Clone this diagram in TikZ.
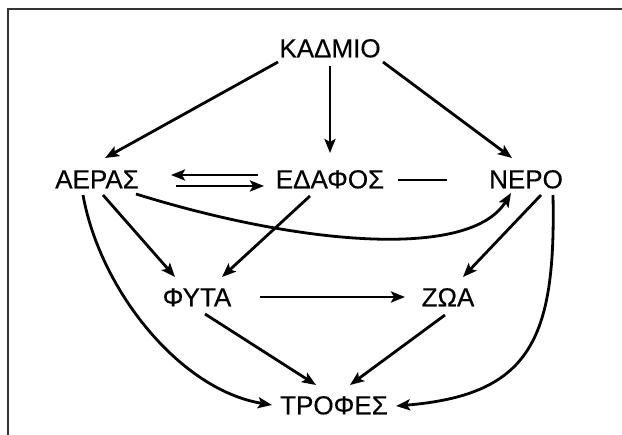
\documentclass[tikz,border=0pt]{standalone}
\usepackage{fontspec}
\setmainfont{Liberation Sans}
\newfontfamily\termfont[FakeBold=0.4]{Liberation Sans}
\usetikzlibrary{arrows.meta}
\begin{document}
\begin{tikzpicture}[x=1pt,y=-1pt,
  term/.style={inner sep=0pt,font=\termfont\fontsize{26}{30}\selectfont,text height=18.6pt,text depth=0pt},
  link/.style={line width=2.8pt,-{Stealth[length=14pt,width=11pt,inset=3pt]}},
  plain/.style={line width=2.8pt}]
\useasboundingbox (0,0) rectangle (622,435);
% frame along the top and left edges
\draw[line width=2pt,black!80] (622,9.5) -- (7.5,9.5) -- (7.5,435);

\node[term] (k) at (330,48) {ΚΑΔΜΙΟ};
\node[term] (a) at (97,179) {ΑΕΡΑΣ};
\node[term] (e) at (330,179) {ΕΔΑΦΟΣ};
\node[term] (n) at (526,179) {ΝΕΡΟ};
\node[term] (f) at (197,297) {ΦΥΤΑ};
\node[term] (z) at (448,297) {ΖΩΑ};
\node[term] (t) at (334,405) {ΤΡΟΦΕΣ};

% from cadmium
\draw[link] ([shift={(-52,14)}]k.center) -- ([shift={(8,-21)}]a.center);
\draw[link] ([shift={(0,18)}]k.center) -- ([shift={(0,-26)}]e.center);
\draw[link] ([shift={(53,14)}]k.center) -- ([shift={(-14,-21)}]n.center);

% air <-> soil
\draw[link] ([shift={(-72,-4)}]e.center) -- ([shift={(74,-4)}]a.center);
\draw[link] ([shift={(79,7)}]a.center) -- ([shift={(-66,7)}]e.center);
% soil -- water
\draw[plain] ([shift={(68,1)}]e.center) -- ([shift={(-79,1)}]n.center);

% to plants
\draw[link] ([shift={(6,16)}]a.center) -- ([shift={(-22,-20)}]f.center);
\draw[link] ([shift={(-20,17)}]e.center) -- ([shift={(25,-20)}]f.center);
% air to water
\draw[link] ([shift={(39,15)}]a.center) .. controls (300,245) and (470,260) .. ([shift={(-15,14)}]n.center);
% water to animals
\draw[link] ([shift={(15,16)}]n.center) -- ([shift={(15,-20)}]z.center);
% long curves to food
\draw[link] ([shift={(-14,16)}]a.center) .. controls (100,290) and (180,390) .. ([shift={(-62,0)}]t.center);
\draw[link] ([shift={(27,16)}]n.center) .. controls (556,340) and (530,395) .. ([shift={(62,1)}]t.center);

% plants and animals
\draw[link] ([shift={(63,0)}]f.center) -- ([shift={(-43,0)}]z.center);
\draw[link] ([shift={(8,17)}]f.center) -- ([shift={(-18,-20)}]t.center);
\draw[link] ([shift={(-3,18)}]z.center) -- ([shift={(16,-20)}]t.center);
\end{tikzpicture}
\end{document}
